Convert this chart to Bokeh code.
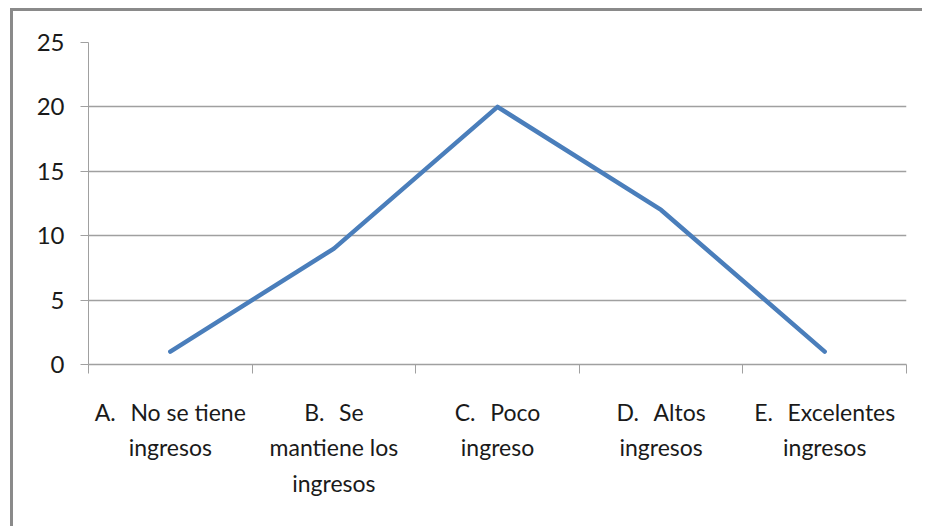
from bokeh.plotting import figure
from bokeh.models import (Range1d, LinearAxis, FixedTicker, ColumnDataSource,
                          CustomJSTickFormatter)
from bokeh.embed import file_html
from bokeh.resources import INLINE

GAP = "\u00a0\u00a0\u2009"
categories = ["A", "B", "C", "D", "E"]
category_labels = ["A." + GAP + "No se tiene\ningresos",
                   "B." + GAP + "Se\nmantiene los\ningresos",
                   "C." + GAP + "Poco\ningreso",
                   "D." + GAP + "Altos\ningresos",
                   "E." + GAP + "Excelentes\ningresos"]
values = [1, 9, 20, 12, 1]
y_ticks = [0, 5, 10, 15, 20, 25]

FONT = "Lato"
TEXT_COLOR = "#1a1a1a"
GRID = "#a0a0a0"

n = len(categories)
idx = list(range(n))

p = figure(width=912, height=518, output_backend="svg", toolbar_location=None,
           x_range=Range1d(-0.5, n - 0.5), y_range=Range1d(0, 25),
           x_axis_location=None,
           min_border_left=75, min_border_right=19, min_border_top=31,
           min_border_bottom=165)
p.margin = (8, 0, 0, 10)
p.styles = {"border-left": "3px solid #8a8a8a", "border-top": "3px solid #8a8a8a"}
p.outline_line_color = None
p.background_fill_color = "white"
p.border_fill_color = "white"

src = ColumnDataSource(dict(x=idx, val=values, cat=categories))
p.line("x", "val", source=src, line_color="#4a7ebb", line_width=4.5,
       line_cap="round", line_join="round")

# y axis
ya = p.yaxis[0]
ya.ticker = FixedTicker(ticks=y_ticks)
ya.axis_line_color = GRID
ya.major_tick_line_color = GRID
ya.major_tick_out = 8
ya.major_tick_in = 0
ya.minor_tick_line_color = None
ya.major_label_text_font = FONT
ya.major_label_text_font_size = "24px"
ya.major_label_text_color = TEXT_COLOR
ya.major_label_standoff = 16

p.xgrid.grid_line_color = None
p.ygrid.ticker = FixedTicker(ticks=y_ticks)
p.ygrid.grid_line_color = GRID
p.ygrid.grid_line_width = 1.5

# bottom tick axis at category edges
tick_axis = LinearAxis(ticker=FixedTicker(ticks=[i - 0.5 for i in range(n + 1)]),
                       formatter=CustomJSTickFormatter(code="return ''"))
tick_axis.axis_line_color = GRID
tick_axis.axis_line_width = 1.5
tick_axis.major_tick_line_color = GRID
tick_axis.major_tick_out = 9
tick_axis.major_tick_in = 0
tick_axis.minor_tick_line_color = None
tick_axis.major_label_standoff = 0
p.add_layout(tick_axis, "below")

label_axis = LinearAxis(ticker=FixedTicker(ticks=idx))
label_axis.axis_line_color = None
label_axis.major_tick_line_color = None
label_axis.minor_tick_line_color = None
label_axis.major_label_overrides = dict(zip(idx, category_labels))
label_axis.major_label_text_font = FONT
label_axis.major_label_text_font_size = "23px"
label_axis.major_label_text_line_height = 1.27
label_axis.major_label_text_color = TEXT_COLOR
label_axis.major_label_standoff = 18
p.add_layout(label_axis, "below")

open("out.html", "w").write(file_html(p, INLINE))
